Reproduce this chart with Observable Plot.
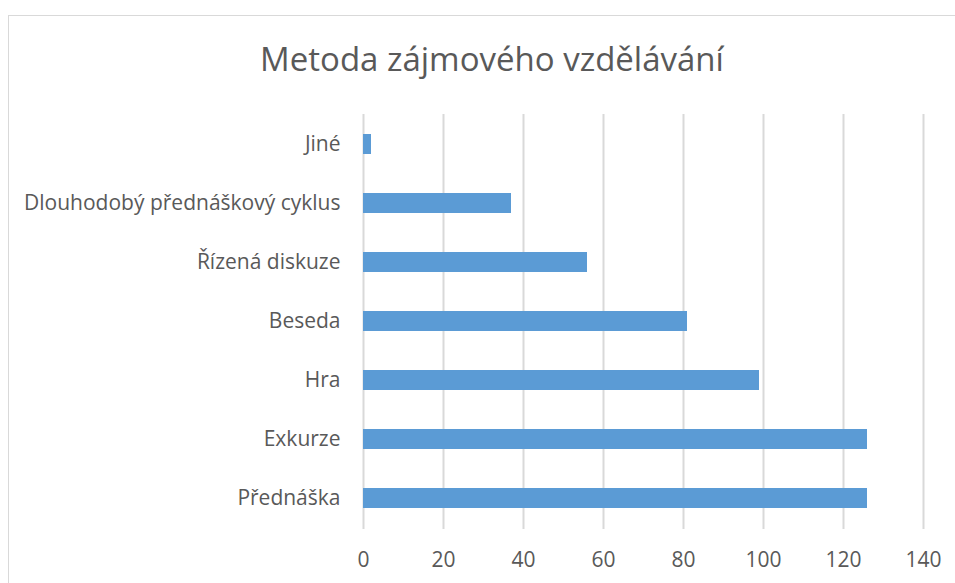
<!DOCTYPE html>
<html>
<head>
<meta charset="utf-8">
<script src="https://cdn.jsdelivr.net/npm/d3@7"></script>
<script src="https://cdn.jsdelivr.net/npm/@observablehq/plot@0.6"></script>
<style>
  html, body { margin: 0; padding: 0; background: #fff; }
  #wrap { position: relative; width: 955px; height: 583px; overflow: hidden; font-family: "Open Sans", sans-serif; }
  #frame { position: absolute; left: 8px; top: 15px; width: 1200px; height: 800px;
           border-left: 1.5px solid #d9d9d9; border-top: 1.5px solid #d9d9d9; pointer-events: none; }
  #header { position: relative; height: 100px; }
  #title { position: absolute; left: 0; width: 984px; top: 42px; line-height: 33px; text-align: center;
           font-size: 33px; color: #595959; font-weight: 400; }
  #chart svg { display: block; }
</style>
</head>
<body>
<div id="wrap">
  <div id="frame"></div>
  <div id="header"><div id="title">Metoda zájmového vzdělávání</div></div>
  <div id="chart"></div>
</div>
<script>
const categories = ["Jiné", "Dlouhodobý přednáškový cyklus", "Řízená diskuze", "Beseda", "Hra", "Exkurze", "Přednáška"];
const values = [2, 37, 56, 81, 99, 126, 126];
const xTicks = [0, 20, 40, 60, 80, 100, 120, 140];

const data = categories.map((c, i) => ({category: c, value: values[i]}));

const chart = Plot.plot({
  width: 955,
  height: 483,
  marginLeft: 363,
  marginRight: 32,
  marginTop: 14,
  marginBottom: 54,
  style: {fontFamily: "'Open Sans', sans-serif", fontSize: "21px", color: "#595959", background: "transparent"},
  x: {domain: [0, 140], ticks: xTicks, label: null},
  y: {domain: categories, label: null, paddingInner: 0.66, paddingOuter: 0.33, align: 0.5},
  marks: [
    Plot.gridX(xTicks, {stroke: "#d9d9d9", strokeWidth: 2, strokeOpacity: 1}),
    Plot.barX(data, {x: "value", y: "category", fill: "#5b9bd5"}),
    Plot.axisX({ticks: xTicks, tickSize: 0, tickPadding: 23, label: null, fill: "#595959"}),
    Plot.axisY({tickSize: 0, tickPadding: 23, label: null, fill: "#595959"})
  ]
});
document.getElementById("chart").appendChild(chart);
</script>
</body>
</html>
